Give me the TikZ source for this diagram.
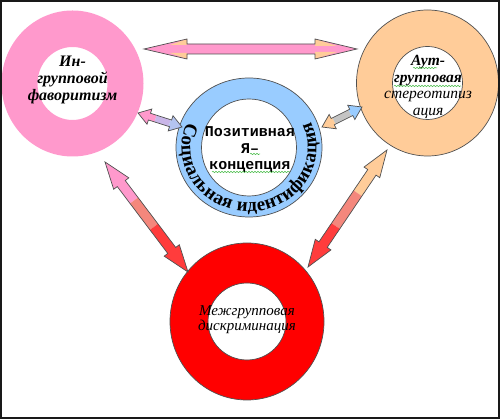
\documentclass[tikz,border=0pt]{standalone}
\usepackage{fontspec}
\setmainfont{Liberation Serif}
\newfontfamily\monofnt{Liberation Mono}
\usetikzlibrary{decorations.text,decorations.pathmorphing,calc}
\definecolor{pinkF}{HTML}{FF99CC}
\definecolor{orangeF}{HTML}{FFCC99}
\definecolor{blueF}{HTML}{99CCFF}
\definecolor{redF}{HTML}{FF0000}
\definecolor{salmonF}{HTML}{F4877C}
\definecolor{arrRed}{HTML}{FF3C3C}
\definecolor{lavF}{HTML}{C9B6E8}
\definecolor{lavBlue}{HTML}{B4C4F0}
\definecolor{greyF}{HTML}{C4C4C4}
\definecolor{outl}{HTML}{505050}
\definecolor{squig}{HTML}{44BB44}
\newdimen\arrdx \newdimen\arrdy
\def\asw{5}\def\ahw{9.5}\def\ahl{27}
\newcommand\bandarrow[7]{%
  \pgfextractx{\arrdx}{\pgfpointdiff{\pgfpointanchor{#1}{center}}{\pgfpointanchor{#2}{center}}}%
  \pgfextracty{\arrdy}{\pgfpointdiff{\pgfpointanchor{#1}{center}}{\pgfpointanchor{#2}{center}}}%
  \pgfmathsetmacro\arrL{veclen(\arrdx,\arrdy)}%
  \pgfmathsetmacro\arrA{atan2(\arrdy,\arrdx)}%
  \begin{scope}[shift={(#1)},rotate=\arrA]
    \begin{scope}
      \clip (0,0) -- (\ahl,\ahw) -- (\ahl,\asw) -- (\arrL-\ahl,\asw) -- (\arrL-\ahl,\ahw) -- (\arrL,0)
        -- (\arrL-\ahl,-\ahw) -- (\arrL-\ahl,-\asw) -- (\ahl,-\asw) -- (\ahl,-\ahw) -- cycle;
      \fill[#3] (-1,-\ahw-1) rectangle (#6*\arrL,\ahw+1);
      \fill[#4] (#6*\arrL,-\ahw-1) rectangle (#7*\arrL,\ahw+1);
      \fill[#5] (#7*\arrL,-\ahw-1) rectangle (\arrL+1,\ahw+1);
    \end{scope}
    \draw[arrowline] (0,0) -- (\ahl,\ahw) -- (\ahl,\asw) -- (\arrL-\ahl,\asw) -- (\arrL-\ahl,\ahw) -- (\arrL,0)
        -- (\arrL-\ahl,-\ahw) -- (\arrL-\ahl,-\asw) -- (\ahl,-\asw) -- (\ahl,-\ahw) -- cycle;
  \end{scope}}
\tikzset{
  arrowline/.style={draw=outl, line width=0.7pt, line join=miter},
  ringline/.style={draw=outl, line width=0.7pt},
  txt/.style={align=center, inner sep=0pt},
  squiggle/.style={draw=squig, line width=0.5pt, decorate, decoration={snake, amplitude=0.7pt, segment length=3pt}}
}
\begin{document}
\begin{tikzpicture}[x=1pt,y=1pt]
\useasboundingbox (0,0) rectangle (500,419);
% centres
\coordinate (pinkc) at (72.5,335.5);
\coordinate (orc) at (427.5,336);
\coordinate (bluec) at (249,271.5);
\coordinate (redc) at (247,97.5);
% rings
\path[fill=pinkF, even odd rule] (pinkc) ellipse [x radius=71, y radius=73] (pinkc) ellipse [x radius=35, y radius=36.5];
\path[fill=orangeF, ringline, even odd rule] (orc) ellipse [x radius=71, y radius=73] (orc) ellipse [x radius=35, y radius=36.5];
\path[fill=blueF, ringline, even odd rule] (bluec) ellipse [x radius=73, y radius=69.5] (bluec) ellipse [x radius=47.5, y radius=48.5];
\path[fill=redF, ringline, even odd rule] (redc) ellipse [x radius=77, y radius=78.5] (redc) ellipse [x radius=39, y radius=38.5];
% ring text
\path[decorate, decoration={text along path, text align=fit to path,
   text={|\bfseries\fontsize{19}{19}\selectfont|Социальная идентификация}}]
   (bluec) ++(157:67.5 and 64) arc [start angle=157, end angle=384, x radius=67.5, y radius=64];
% arrow end points
\coordinate (topL) at (144,370);
\coordinate (topR) at (357,370);
\coordinate (sA) at (138,306);
\coordinate (sB) at (182,292);
\coordinate (rA) at (322,292);
\coordinate (rB) at (362,312);
\coordinate (lA) at (105,257);
\coordinate (lB) at (188,147);
\coordinate (mA) at (387,269);
\coordinate (mB) at (308,152);
% top arrow
\fill[pinkF] (topL) -- ($(topL)+(43,10)$) -- ($(topL)+(43,5)$) -- ($(topR)+(-42,5)$) -- ($(topR)+(-42,10)$) -- (topR)
  -- ($(topR)+(-42,-10)$) -- ($(topR)+(-42,-5)$) -- ($(topL)+(43,-5)$) -- ($(topL)+(43,-10)$) -- cycle;
\fill[orangeF] ($(topL)+(43,10)$) -- ($(topL)+(43,4)$) -- ($(topL)+(26,4)$) -- cycle;
\fill[orangeF] ($(topL)+(43,-10)$) -- ($(topL)+(43,-4)$) -- ($(topL)+(26,-4)$) -- cycle;
\fill[orangeF] ($(topR)+(-42,10)$) -- ($(topR)+(-42,3)$) -- ($(topR)+(-20,3)$) -- cycle;
\fill[orangeF] ($(topR)+(-42,-10)$) -- ($(topR)+(-42,-3)$) -- ($(topR)+(-20,-3)$) -- cycle;
\draw[arrowline] (topL) -- ($(topL)+(43,10)$) -- ($(topL)+(43,5)$) -- ($(topR)+(-42,5)$) -- ($(topR)+(-42,10)$) -- (topR)
  -- ($(topR)+(-42,-10)$) -- ($(topR)+(-42,-5)$) -- ($(topL)+(43,-5)$) -- ($(topL)+(43,-10)$) -- cycle;
% big diagonal arrows
\def\asw{5}\def\ahw{9.5}\def\ahl{27}
\bandarrow{lA}{lB}{pinkF}{salmonF}{arrRed}{0.35}{0.59}
\bandarrow{mA}{mB}{orangeF}{salmonF}{arrRed}{0.37}{0.65}
% small arrows
\def\asw{3.5}\def\ahw{8}\def\ahl{12}
\bandarrow{sA}{sB}{pinkF}{lavF}{lavBlue}{0.4}{0.72}
\bandarrow{rA}{rB}{orangeF}{greyF}{blueF}{0.3}{0.7}
% texts
\node[txt, font=\bfseries\itshape\fontsize{16}{17}\selectfont] (ingroup) at (72.5,339) {Ин-\\групповой\\фаворитизм};
\node[txt, font=\fontsize{15.5}{16.5}\selectfont] (outgroup) at (428,332)
  {{\bfseries\itshape Аут-}\\{\bfseries\itshape групповая}\\{\itshape стереотипиз}\\{\itshape ация}};
\node[txt, font=\monofnt\bfseries\fontsize{15}{16.5}\selectfont] (selfc) at (250,269)
  {Позитивная\\Я–\\концепция};
\node[txt, font=\itshape\fontsize{15}{15}\selectfont] (discr) at (247,99)
  {Межгрупповая\\дискриминация};
% spell-check squiggles
\draw[squiggle] (250,265) -- (260,265);
\draw[squiggle] (212,247) -- (290,247);
\draw[squiggle] (413,351) -- (437,351);
\draw[squiggle] (394,333) -- (461,333);
% frame
\draw[line width=1.8pt, black!90] (0.9,0.9) rectangle (499.1,418.1);
\end{tikzpicture}
\end{document}
